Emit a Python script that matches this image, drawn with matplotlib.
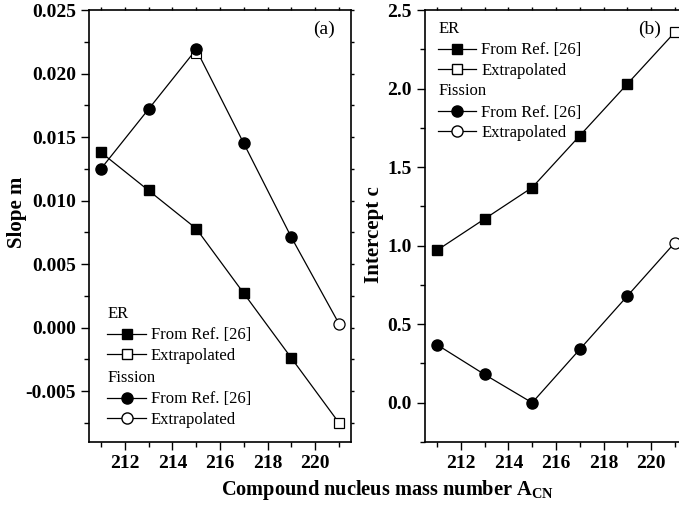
import matplotlib
matplotlib.use("Agg")
import matplotlib.pyplot as plt
from matplotlib.lines import Line2D
from matplotlib.ticker import MultipleLocator

plt.rcParams['font.family'] = ['Liberation Serif', 'DejaVu Serif']
plt.rcParams['axes.unicode_minus'] = False
plt.rcParams['mathtext.fontset'] = 'custom'
plt.rcParams['mathtext.rm'] = 'Liberation Serif:bold'

# compound nucleus mass numbers
mass = [211, 213, 215, 217, 219]
mass_extra = [221]

# (a) slope m
er_slope = [0.0138, 0.0108, 0.0078, 0.0027, -0.0024]
er_slope_extra = [-0.0075]
fis_slope = [0.0125, 0.0172, 0.0219, 0.0145, 0.0071]
fis_slope_extra = [0.0003]
hidden_sq_x = [215]
hidden_sq_y = [0.0216]

# (b) intercept c
er_int = [0.97, 1.17, 1.37, 1.70, 2.03]
er_int_extra = [2.36]
fis_int = [0.37, 0.18, 0.0, 0.34, 0.68]
fis_int_extra = [1.02]

fig = plt.figure(figsize=(6.79, 5.07), dpi=100)
ax_a = fig.add_axes([0.1311, 0.1282, 0.3858, 0.852])
ax_b = fig.add_axes([0.6259, 0.1282, 0.3858, 0.852])

ms_sq = 7
ms_ci = 8


def draw(ax, ys_er, ys_er_x, ys_f, ys_f_x):
    ax.plot(mass + mass_extra, ys_er + ys_er_x, color='k', lw=0.9, zorder=2)
    ax.plot(mass + mass_extra, ys_f + ys_f_x, color='k', lw=0.9, zorder=2)
    ax.plot(mass, ys_er, 's', color='k', ms=ms_sq, zorder=3)
    ax.plot(mass_extra, ys_er_x, 's', mfc='white', mec='k', mew=0.9, ms=ms_sq, zorder=3)
    ax.plot(mass, ys_f, 'o', color='k', ms=ms_ci, zorder=4)
    ax.plot(mass_extra, ys_f_x, 'o', mfc='white', mec='k', mew=0.9, ms=ms_ci, zorder=3)


draw(ax_a, er_slope, er_slope_extra, fis_slope, fis_slope_extra)
ax_a.plot(hidden_sq_x, hidden_sq_y, 's', mfc='white', mec='k', mew=0.8, ms=ms_sq, zorder=3)
draw(ax_b, er_int, er_int_extra, fis_int, fis_int_extra)

ax_a.set_xlim(210.5, 221.5)
ax_a.set_ylim(-0.009, 0.025)
ax_a.yaxis.set_minor_locator(MultipleLocator(0.0025))
ax_a.set_yticks([-0.005, 0.0, 0.005, 0.010, 0.015, 0.020, 0.025])
ax_a.set_yticklabels(['-0.005', '0.000', '0.005', '0.010', '0.015', '0.020', '0.025'])

ax_b.set_xlim(210.5, 221.5)
ax_b.set_ylim(-0.25, 2.5)
ax_b.yaxis.set_minor_locator(MultipleLocator(0.25))
ax_b.set_yticks([0.0, 0.5, 1.0, 1.5, 2.0, 2.5])
ax_b.set_yticklabels(['0.0', '0.5', '1.0', '1.5', '2.0', '2.5'])

for ax in (ax_a, ax_b):
    ax.xaxis.set_minor_locator(MultipleLocator(1))
    ax.set_xticks([212, 214, 216, 218, 220])
    ax.tick_params(which='major', direction='out', length=6, width=1,
                   labelsize=14, top=False, right=False)
    ax.tick_params(which='minor', direction='out', length=3.5, width=1,
                   top=False, right=False)
    # tiny marks on top and right axes
    ax.tick_params(which='both', top=True, right=True)
    ax.tick_params(axis='x', which='both', labeltop=False)
    ax.tick_params(axis='y', which='both', labelright=False)
    for t in ax.xaxis.get_major_ticks() + ax.xaxis.get_minor_ticks():
        t.tick2line.set_markersize(2)
    for t in ax.yaxis.get_major_ticks() + ax.yaxis.get_minor_ticks():
        t.tick2line.set_markersize(2)
    for lab in ax.get_xticklabels() + ax.get_yticklabels():
        lab.set_fontweight('bold')
    for s in ax.spines.values():
        s.set_linewidth(1.2)

ax_a.set_ylabel('Slope m', fontsize=15, fontweight='bold')
ax_a.yaxis.set_label_coords(-0.237, 0.532)
ax_b.set_ylabel('Intercept c', fontsize=15, fontweight='bold')
ax_b.yaxis.set_label_coords(-0.156, 0.479)

ax_a.text(0.94, 0.955, '(a)', transform=ax_a.transAxes, fontsize=14,
          ha='right', va='center')
ax_b.text(0.90, 0.955, '(b)', transform=ax_b.transAxes, fontsize=14,
          ha='right', va='center')

fig.text(0.57, 0.034, r'Compound nucleus mass number A$_{\mathregular{CN}}$',
         fontsize=14.7, fontweight='bold', ha='center', va='center')


def handles():
    h_ref_sq = Line2D([], [], color='k', lw=0.9, marker='s', ms=ms_sq)
    h_ext_sq = Line2D([], [], color='k', lw=0.9, marker='s', ms=ms_sq, mfc='white')
    h_ref_ci = Line2D([], [], color='k', lw=0.9, marker='o', ms=ms_ci)
    h_ext_ci = Line2D([], [], color='k', lw=0.9, marker='o', ms=ms_ci, mfc='white')
    return h_ref_sq, h_ext_sq, h_ref_ci, h_ext_ci


def add_legends(ax, anchor_er, anchor_f):
    h1, h2, h3, h4 = handles()
    kw = dict(frameon=False, fontsize=12, handlelength=2.3, handletextpad=0.3,
              labelspacing=0.28, borderpad=0, borderaxespad=0,
              alignment='left', loc='upper left', title_fontsize=12)
    leg1 = ax.legend([h1, h2], ['From Ref. [26]', 'Extrapolated'], title='ER',
                     bbox_to_anchor=anchor_er, **kw)
    ax.add_artist(leg1)
    leg2 = ax.legend([h3, h4], ['From Ref. [26]', 'Extrapolated'], title='Fission',
                     bbox_to_anchor=anchor_f, **kw)
    for lg in (leg1, leg2):
        lg._legend_box.sep = 4


add_legends(ax_a, (0.07, 0.315), (0.07, 0.167))
add_legends(ax_b, (0.05, 0.975), (0.05, 0.831))

fig.savefig('out.png', dpi=100)
